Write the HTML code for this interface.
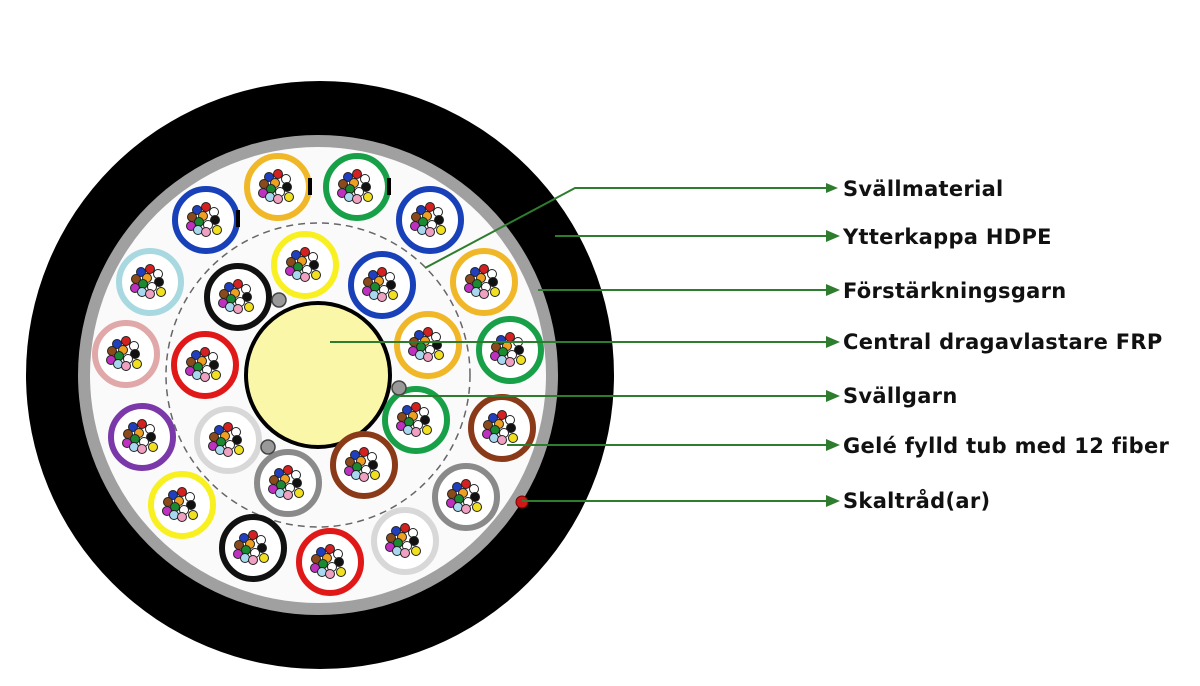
<!DOCTYPE html>
<html><head><meta charset="utf-8"><style>
html,body{margin:0;padding:0;background:#fff;width:1200px;height:686px;overflow:hidden}
text{font-family:"DejaVu Sans","Liberation Sans",sans-serif;font-weight:bold;font-size:21px;letter-spacing:0.3px;fill:#111}
</style></head><body>
<svg width="1200" height="686" viewBox="0 0 1200 686" xmlns="http://www.w3.org/2000/svg">
<defs>
<g id="f" stroke="#222" stroke-width="1">
<circle cx="-9" cy="-10" r="4.5" fill="#1f3fbf"/>
<circle cx="0" cy="-13" r="4.5" fill="#d42020"/>
<circle cx="8" cy="-8" r="4.5" fill="#fff"/>
<circle cx="-14" cy="-3" r="4.5" fill="#8b4a1c"/>
<circle cx="-3" cy="-4" r="4.5" fill="#f0a020"/>
<circle cx="9" cy="0" r="4.5" fill="#111"/>
<circle cx="-7" cy="2" r="4.5" fill="#1a8a30"/>
<circle cx="-15" cy="6" r="4.5" fill="#c030c0"/>
<circle cx="2" cy="5" r="4.5" fill="#fff"/>
<circle cx="-8" cy="10" r="4.5" fill="#a8d8f0"/>
<circle cx="0" cy="12" r="4.5" fill="#f0a0c0"/>
<circle cx="11" cy="10" r="4.5" fill="#f0e020"/>
</g>
</defs>
<circle cx="320" cy="375" r="294" fill="#000"/>
<circle cx="318" cy="375" r="240" fill="#a0a0a0"/>
<circle cx="318" cy="375" r="228" fill="#fafafa"/>
<circle cx="318" cy="375" r="152" fill="none" stroke="#666" stroke-width="1.5" stroke-dasharray="7,5"/>
<circle cx="318" cy="375" r="72" fill="#fbf7a8" stroke="#000" stroke-width="4"/>
<g fill="#fff" stroke-width="6">
<circle cx="278" cy="187" r="31" stroke="#f0b828"/>
<circle cx="357" cy="187" r="31" stroke="#18a048"/>
<circle cx="430" cy="220" r="31" stroke="#1840b8"/>
<circle cx="484" cy="282" r="31" stroke="#f0b828"/>
<circle cx="510" cy="350" r="31" stroke="#18a048"/>
<circle cx="502" cy="428" r="31" stroke="#8a3a18"/>
<circle cx="466" cy="497" r="31" stroke="#8a8a8a"/>
<circle cx="405" cy="541" r="31" stroke="#d8d8d8"/>
<circle cx="330" cy="562" r="31" stroke="#e01818"/>
<circle cx="253" cy="548" r="31" stroke="#111"/>
<circle cx="182" cy="505" r="31" stroke="#f8f020"/>
<circle cx="142" cy="437" r="31" stroke="#7a38a8"/>
<circle cx="126" cy="354" r="31" stroke="#e0a8a8"/>
<circle cx="150" cy="282" r="31" stroke="#a8d8e0"/>
<circle cx="206" cy="220" r="31" stroke="#1840b8"/>
<circle cx="305" cy="265" r="31" stroke="#f8f020"/>
<circle cx="238" cy="297" r="31" stroke="#111"/>
<circle cx="382" cy="285" r="31" stroke="#1840b8"/>
<circle cx="428" cy="345" r="31" stroke="#f0b828"/>
<circle cx="416" cy="420" r="31" stroke="#18a048"/>
<circle cx="364" cy="465" r="31" stroke="#8a3a18"/>
<circle cx="288" cy="483" r="31" stroke="#8a8a8a"/>
<circle cx="228" cy="440" r="31" stroke="#d8d8d8"/>
<circle cx="205" cy="365" r="31" stroke="#e01818"/>
</g>
<g fill="#000"><rect x="308" y="178" width="4" height="17"/><rect x="387" y="178" width="4" height="17"/><rect x="236" y="210" width="4" height="17"/></g>
<use href="#f" x="278" y="187"/><use href="#f" x="357" y="187"/><use href="#f" x="430" y="220"/>
<use href="#f" x="484" y="282"/><use href="#f" x="510" y="350"/><use href="#f" x="502" y="428"/>
<use href="#f" x="466" y="497"/><use href="#f" x="405" y="541"/><use href="#f" x="330" y="562"/>
<use href="#f" x="253" y="548"/><use href="#f" x="182" y="505"/><use href="#f" x="142" y="437"/>
<use href="#f" x="126" y="354"/><use href="#f" x="150" y="282"/><use href="#f" x="206" y="220"/>
<use href="#f" x="305" y="265"/><use href="#f" x="238" y="297"/><use href="#f" x="382" y="285"/>
<use href="#f" x="428" y="345"/><use href="#f" x="416" y="420"/><use href="#f" x="364" y="465"/>
<use href="#f" x="288" y="483"/><use href="#f" x="228" y="440"/><use href="#f" x="205" y="365"/>
<g fill="#999" stroke="#444" stroke-width="1.5">
<circle cx="279" cy="300" r="7"/><circle cx="399" cy="388" r="7"/><circle cx="268" cy="447" r="7"/>
</g>
<circle cx="522" cy="502" r="6" fill="#d01818" stroke="#700" stroke-width="1"/>
<g stroke="#2e7d2e" stroke-width="2" fill="none">
<polyline points="425,268 575,188 830,188"/>
<line x1="555" y1="236" x2="830" y2="236"/>
<line x1="538" y1="290" x2="830" y2="290"/>
<line x1="330" y1="342" x2="830" y2="342"/>
<line x1="400" y1="396" x2="830" y2="396"/>
<line x1="507" y1="445" x2="830" y2="445"/>
<line x1="522" y1="501" x2="830" y2="501"/>
</g>
<g fill="#2e7d2e">
<polygon points="826,183 838,188 826,193"/>
<polygon points="826,230 840,236 826,242"/>
<polygon points="826,284 840,290 826,296"/>
<polygon points="826,336 840,342 826,348"/>
<polygon points="826,390 840,396 826,402"/>
<polygon points="826,439 840,445 826,451"/>
<polygon points="826,495 840,501 826,507"/>
</g>
<text x="843" y="196">Svällmaterial</text>
<text x="843" y="244">Ytterkappa HDPE</text>
<text x="843" y="298">Förstärkningsgarn</text>
<text x="843" y="349">Central dragavlastare FRP</text>
<text x="843" y="403">Svällgarn</text>
<text x="843" y="453">Gelé fylld tub med 12 fiber</text>
<text x="843" y="508">Skaltråd(ar)</text>
</svg>
</body></html>
